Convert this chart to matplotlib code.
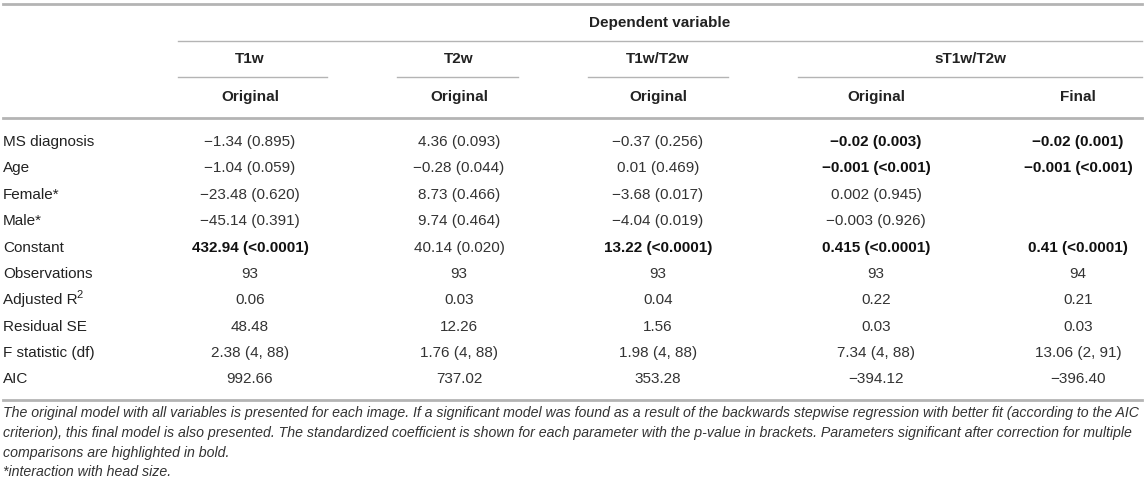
import matplotlib
matplotlib.use("Agg")
import matplotlib.pyplot as plt

plt.rcParams['font.family'] = ['Liberation Sans', 'DejaVu Sans']

# table content
row_labels = ["MS diagnosis", "Age", "Female*", "Male*", "Constant", "Observations",
              "Adjusted R", "Residual SE", "F statistic (df)", "AIC"]
models = ["T1w", "T2w", "T1w/T2w", "sT1w/T2w"]
sub_heads = ["Original", "Original", "Original", "Original", "Final"]

t1w = ["\u22121.34 (0.895)", "\u22121.04 (0.059)", "\u221223.48 (0.620)", "\u221245.14 (0.391)",
       "432.94 (<0.0001)", "93", "0.06", "48.48", "2.38 (4, 88)", "992.66"]
t2w = ["4.36 (0.093)", "\u22120.28 (0.044)", "8.73 (0.466)", "9.74 (0.464)",
       "40.14 (0.020)", "93", "0.03", "12.26", "1.76 (4, 88)", "737.02"]
ratio = ["\u22120.37 (0.256)", "0.01 (0.469)", "\u22123.68 (0.017)", "\u22124.04 (0.019)",
         "13.22 (<0.0001)", "93", "0.04", "1.56", "1.98 (4, 88)", "353.28"]
s_orig = ["\u22120.02 (0.003)", "\u22120.001 (<0.001)", "0.002 (0.945)", "\u22120.003 (0.926)",
          "0.415 (<0.0001)", "93", "0.22", "0.03", "7.34 (4, 88)", "\u2212394.12"]
s_final = ["\u22120.02 (0.001)", "\u22120.001 (<0.001)", "", "",
           "0.41 (<0.0001)", "94", "0.21", "0.03", "13.06 (2, 91)", "\u2212396.40"]
columns = [t1w, t2w, ratio, s_orig, s_final]

# bold cells (row, col)
bold_cells = {(0, 3), (0, 4), (1, 3), (1, 4), (4, 0), (4, 2), (4, 3), (4, 4)}

footnote = ["The original model with all variables is presented for each image. If a significant model was found as a result of the backwards stepwise regression with better fit (according to the AIC",
            "criterion), this final model is also presented. The standardized coefficient is shown for each parameter with the p-value in brackets. Parameters significant after correction for multiple",
            "comparisons are highlighted in bold.",
            "*interaction with head size."]

W, H = 1145, 486
fig = plt.figure(figsize=(W / 100, H / 100), dpi=100)
ax = fig.add_axes([0, 0, 1, 1])
ax.set_xlim(0, W)
ax.set_ylim(H, 0)
ax.axis("off")

txt = "#222222"
rule = "#b4b4b4"
fs = 11

col_x = [250, 459, 658, 876, 1078]
model_x = [250, 459, 658, 970]
seg = [(178, 327), (397, 518), (588, 728), (798, 1142)]
row_y = [142, 168, 195, 221, 248, 274, 300, 327, 353, 379]

# rules
ax.plot([3, 1142], [4, 4], color=rule, lw=2)
ax.plot([178, 1142], [41, 41], color=rule, lw=1)
for a, b in seg:
    ax.plot([a, b], [77, 77], color=rule, lw=1)
ax.plot([3, 1142], [118, 118], color=rule, lw=2)
ax.plot([3, 1142], [400, 400], color=rule, lw=2)

# header
ax.text(660, 23, "Dependent variable", ha="center", va="center", fontsize=fs,
        fontweight="bold", color=txt)
for x, m in zip(model_x, models):
    ax.text(x, 59, m, ha="center", va="center", fontsize=fs, fontweight="bold", color=txt)
for x, s in zip(col_x, sub_heads):
    ax.text(x, 97, s, ha="center", va="center", fontsize=fs, fontweight="bold", color=txt)

fig.canvas.draw()
r = fig.canvas.get_renderer()

# body
for i, (lab, y) in enumerate(zip(row_labels, row_y)):
    t = ax.text(3, y, lab, ha="left", va="center", fontsize=fs, color=txt)
    if lab == "Adjusted R":
        ext = t.get_window_extent(r)
        ax.text(ext.x1 - 1.5, y - 5, "2", ha="left", va="center", fontsize=8, color=txt)
    for j, (x, col) in enumerate(zip(col_x, columns)):
        w = "bold" if (i, j) in bold_cells else "normal"
        c = "#111111" if w == "bold" else "#333333"
        ax.text(x, y, col[i], ha="center", va="center", fontsize=fs, fontweight=w, color=c)

# footnote, fitted to the table width
foot_y = [413, 433, 453, 472]
probe = ax.text(3, foot_y[0], footnote[0], fontsize=10, style="italic")
wpx = probe.get_window_extent(r).width
probe.remove()
ffs = 10 * 1135 / wpx
for line, y in zip(footnote, foot_y):
    ax.text(3, y, line, ha="left", va="center", fontsize=ffs,
            style="italic", color="#333333")

fig.savefig("out.png", dpi=100)
